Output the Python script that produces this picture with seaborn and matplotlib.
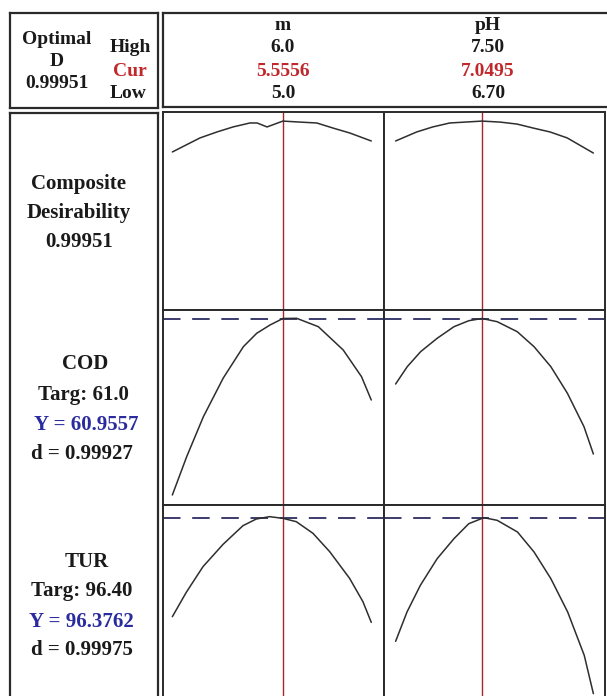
import numpy as np
import pandas as pd
import matplotlib
matplotlib.use("Agg")
import matplotlib.pyplot as plt
import seaborn as sns

# ======= factor settings
m_low, m_cur, m_high = 5.0, 5.5556, 6.0
ph_low, ph_cur, ph_high = 6.70, 7.0495, 7.50
optimal_d = 0.99951

# composite desirability vs m / pH
m_pts_d = [5.0, 5.139, 5.224, 5.305, 5.390, 5.426, 5.476, 5.5556, 5.641, 5.726, 5.807, 5.893, 6.0]
d_vs_m = [0.828, 0.906, 0.939, 0.967, 0.989, 0.989, 0.967, 0.9995, 0.994, 0.989, 0.961, 0.933, 0.889]
ph_pts_d = [6.70, 6.785, 6.850, 6.919, 7.0495, 7.122, 7.191, 7.256, 7.325, 7.394, 7.50]
d_vs_ph = [0.889, 0.939, 0.967, 0.989, 0.9995, 0.994, 0.983, 0.961, 0.939, 0.906, 0.822]

# COD vs m / pH
m_pts_cod = [5.0, 5.072, 5.156, 5.256, 5.357, 5.424, 5.491, 5.5556, 5.625, 5.734, 5.859, 5.951, 6.0]
cod_vs_m = [43.31, 47.14, 51.14, 55.01, 58.14, 59.48, 60.31, 60.96, 60.98, 60.14, 57.81, 55.14, 52.81]
ph_pts_cod = [6.70, 6.747, 6.801, 6.868, 6.936, 6.996, 7.0495, 7.111, 7.192, 7.260, 7.328, 7.395, 7.462, 7.50]
cod_vs_ph = [54.41, 56.14, 57.64, 58.98, 60.14, 60.74, 60.96, 60.64, 59.64, 58.14, 56.14, 53.48, 50.14, 47.41]

# TUR vs m / pH
m_pts_tur = [5.0, 5.070, 5.154, 5.255, 5.355, 5.422, 5.489, 5.5556, 5.623, 5.707, 5.791, 5.891, 5.958, 6.0]
tur_vs_m = [93.43, 94.16, 94.93, 95.60, 96.16, 96.36, 96.43, 96.38, 96.28, 95.93, 95.38, 94.58, 93.88, 93.26]
ph_pts_tur = [6.70, 6.746, 6.800, 6.868, 6.936, 6.996, 7.057, 7.111, 7.193, 7.260, 7.328, 7.396, 7.463, 7.50]
tur_vs_ph = [92.69, 93.57, 94.37, 95.17, 95.77, 96.22, 96.40, 96.32, 95.97, 95.37, 94.57, 93.57, 92.27, 91.12]

cod_y = 60.9557
tur_y = 96.3762

sns.set_style("white")
plt.rcParams['font.family'] = ['Liberation Serif', 'DejaVu Serif']
plt.rcParams['font.weight'] = 'bold'

W, H = 607, 696
fig = plt.figure(figsize=(W / 100, H / 100), dpi=100)
fig.patch.set_facecolor('white')

def box(x0, y0, x1, y1):
    return [x0 / W, 1 - y1 / H, (x1 - x0) / W, (y1 - y0) / H]

def frame(ax, lw=1.6):
    ax.set_xticks([])
    ax.set_yticks([])
    for s in ax.spines.values():
        s.set_visible(True)
        s.set_color('#2a2a2a')
        s.set_linewidth(lw)

# header boxes and left label box
for rect in [(10, 13, 158, 108), (163, 13, 615, 107), (10, 113, 158, 710)]:
    a = fig.add_axes(box(*rect))
    frame(a)

black = '#1a1a1a'
red = '#c0282c'
blue = '#2b2ba0'

def txt(x, y, s, color=black, size=14):
    fig.text(x / W, 1 - y / H, s, ha='center', va='center', color=color,
             fontsize=size, fontweight='bold')

txt(57, 39, 'Optimal')
txt(57, 62, 'D')
txt(57, 83, f'{optimal_d:.5f}')
txt(130, 48, 'High')
txt(130, 71, 'Cur', red)
txt(128, 93, 'Low')

for cx, name, hi, cur, lo in [(283, 'm', f'{m_high:.1f}', f'{m_cur:.4f}', f'{m_low:.1f}'),
                              (488, 'pH', f'{ph_high:.2f}', f'{ph_cur:.4f}', f'{ph_low:.2f}')]:
    txt(cx, 26, name)
    txt(cx, 48, hi)
    txt(cx, 71, cur, red)
    txt(cx, 93, lo)

bs = 15
txt(79, 184, 'Composite', size=bs)
txt(79, 213, 'Desirability', size=bs)
txt(79, 242, f'{optimal_d:.5f}', size=bs)

txt(85, 364, 'COD', size=bs)
txt(83, 395, 'Targ: 61.0', size=bs)
txt(86, 425, f'Y = {cod_y:.4f}', blue, size=bs)
txt(82, 454, 'd = 0.99927', size=bs)

txt(87, 562, 'TUR', size=bs)
txt(82, 591, 'Targ: 96.40', size=bs)
txt(81, 622, f'Y = {tur_y:.4f}', blue, size=bs)
txt(82, 650, 'd = 0.99975', size=bs)

# ======= response panels
cols = [(163, 384, (4.953, 6.064), m_cur), (384, 605, (6.653, 7.547), ph_cur)]
rows = [(112, 310, (-0.05, 1.05), None), (310, 505, (42.31, 61.81), cod_y),
        (505, 702, (90.87, 96.78), tur_y)]
curves = [[(m_pts_d, d_vs_m), (ph_pts_d, d_vs_ph)],
          [(m_pts_cod, cod_vs_m), (ph_pts_cod, cod_vs_ph)],
          [(m_pts_tur, tur_vs_m), (ph_pts_tur, tur_vs_ph)]]

for r, (y0, y1, ylim, yline) in enumerate(rows):
    for c, (x0, x1, xlim, xcur) in enumerate(cols):
        ax = fig.add_axes(box(x0, y0, x1, y1))
        xs, ys = curves[r][c]
        df = pd.DataFrame({'x': xs, 'y': ys})
        sns.lineplot(data=df, x='x', y='y', ax=ax, color='#2e2e2e', linewidth=1.1,
                     sort=False, estimator=None)
        ax.axvline(xcur, color='#a3262a', linewidth=1.0, zorder=1)
        if yline is not None:
            ax.axhline(yline, color='#3c3c6e', linewidth=1.4, dashes=(9, 6), zorder=1)
        ax.set_xlim(*xlim)
        ax.set_ylim(*ylim)
        ax.set_xlabel('')
        ax.set_ylabel('')
        frame(ax, 1.4)

plt.savefig('out.png', dpi=100)
plt.close()
